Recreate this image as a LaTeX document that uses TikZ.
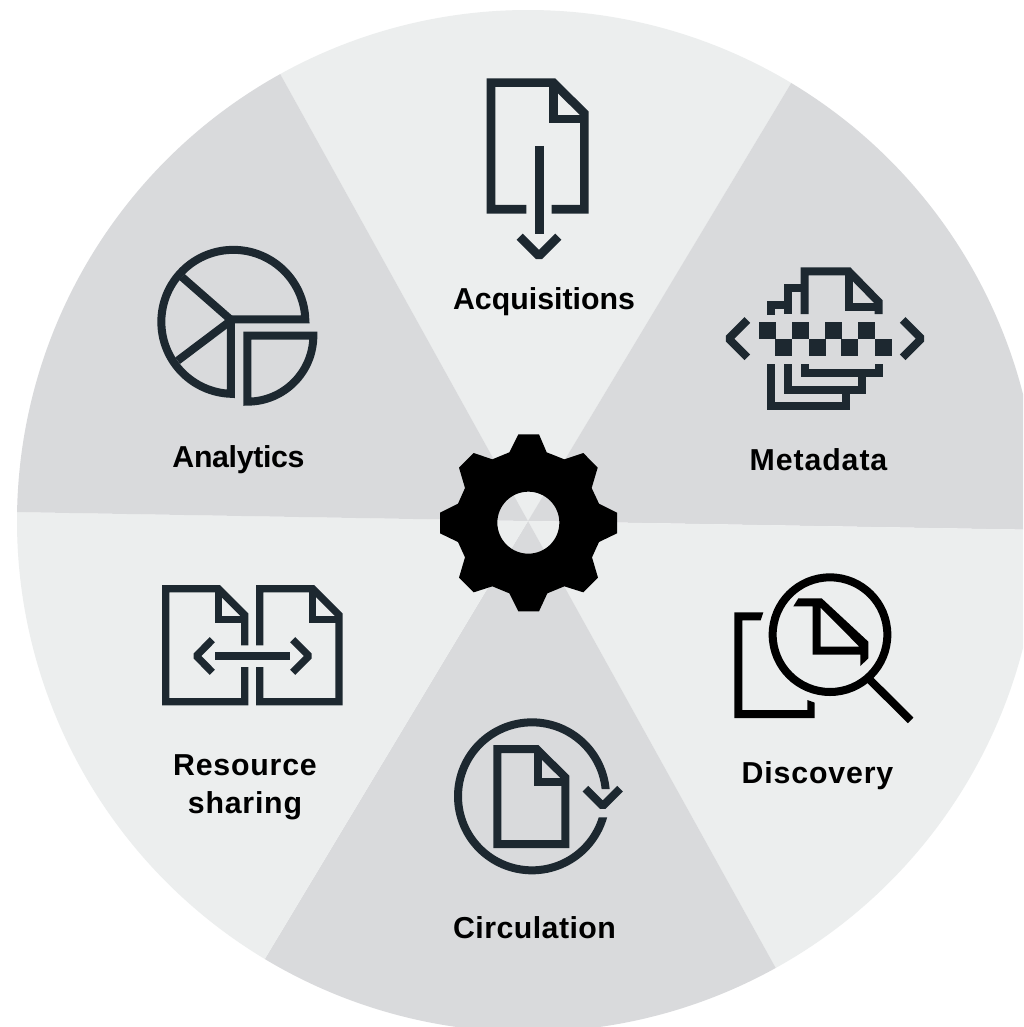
\documentclass[tikz,border=0pt]{standalone}
\usepackage{fontspec}
\setmainfont{Liberation Sans}
\definecolor{seclight}{HTML}{ECEEEE}
\definecolor{secdark}{HTML}{D9DADC}
\definecolor{iconink}{HTML}{1D2830}
\tikzset{
  zoomed/.style 2 args={shift={(#1,#2)},x=0.33333pt,y=-0.33333pt},
  ink/.style={draw=iconink,line width=#1,miter limit=10,line join=miter,fill=none},
  ink/.default=8pt,
  chev/.style={draw=iconink,line width=#1,line join=bevel,fill=none},
  chev/.default=8pt,
  lab/.style={font=\fontsize{30.3}{38}\selectfont\bfseries\addfontfeature{LetterSpace=#1},text=black,align=center,inner sep=0pt,anchor=base},
  lab/.default=0
}
\begin{document}
\begin{tikzpicture}[x=1pt,y=-1pt]
\path[use as bounding box,clip] (0,0) rectangle (1023,1027);
\fill[white] (0,0) rectangle (1023,1027);
% sectors
\foreach \a/\b/\c in {241/301/seclight,301/361/secdark,361/421/seclight,61/121/secdark,121/181/seclight,181/241/secdark}{
  \fill[\c] (528,521) -- ++(\a:511) arc[start angle=\a,end angle=\b,radius=511] -- cycle;
}
% gear
\begin{scope}[zoomed={420}{420}]
\fill[black,even odd rule] (295,43)--(357,43)--(380,97)--(433,118)--(490,99)--(533,143)--(515,204)--(537,251)--(591,278)--(591,340)--(537,366)--(516,412)--(534,473)--(490,517)--(433,499)--(382,520)--(357,574)--(295,574)--(268,520)--(217,499)--(161,517)--(117,473)--(135,412)--(114,366)--(60,340)--(60,278)--(114,251)--(135,204)--(117,143)--(161,99)--(217,118)--(268,97)--cycle
 (325,308) circle[radius=93];
\end{scope}
% Acquisitions icon
\begin{scope}[zoomed={470}{70}]
\draw[ink=8.67pt] (169,418)--(63,418)--(63,38)--(250,38)--(343,130)--(343,418)--(245,418);
\draw[ink=8.67pt] (250,38)--(250,147)--(343,147);
\draw[ink=9pt] (208,228)--(208,492);
\draw[chev=8.67pt] (149,500)--(207,558)--(265,500);
\end{scope}
% Metadata icon
\begin{scope}[zoomed={700}{250}]
\draw[ink] (314,192)--(314,64)--(446,64)--(536,156)--(536,192);
\draw[ink] (446,64)--(446,172)--(536,172);
\draw[ink] (264,192)--(264,114)--(314,114);
\draw[ink] (214,194)--(214,164)--(264,164);
\draw[ink] (314,342)--(314,370)--(536,370)--(536,342);
\draw[ink] (264,342)--(264,420)--(487,420)--(487,370);
\draw[ink] (214,342)--(214,469)--(438,469)--(438,420);
\foreach \x in {177,276,375,474}{\fill[iconink] (\x,216) rectangle ++(50,50);}
\foreach \x in {226,327,424,525}{\fill[iconink] (\x,267) rectangle ++(50,50);}
\draw[chev] (142,210)--(86,266)--(142,322);
\draw[chev] (608,210)--(664,266)--(608,322);
\end{scope}
% Discovery icon
\begin{scope}[zoomed={720}{560}]
\draw[draw=black,line width=8pt] (330,224) circle[radius=172];
\draw[draw=black,line width=8pt] (445,355)--(572,481);
\fill[black] (43,157)--(130,157)--(122,181)--(67,181)--(67,450)--(262,450)--(262,420)--(284,428)--(284,474)--(43,474)--cycle;
\fill[black,even odd rule] (235,115)--(305,115)--(445,245)--(445,295)--(421,318)--(421,284)--(278,284)--(278,139)--(220,139)--cycle
 (302,143)--(418,260)--(302,260)--cycle;
\end{scope}
% Circulation icon
\begin{scope}[zoomed={440}{710}]
\begin{scope}
\clip (0,0)--(570,0)--(570,237)--(276,237)--(276,322)--(570,322)--(570,510)--(0,510)--cycle;
\draw[ink] (276,259) circle[radius=222];
\end{scope}
\draw[ink] (172,117)--(290,117)--(376,202)--(376,402)--(172,402)--cycle;
\draw[ink] (293,117)--(293,217)--(376,217);
\draw[chev] (436,236)--(488,288)--(540,236);
\end{scope}
% Resource sharing icon
\begin{scope}[zoomed={150}{570}]
\draw[ink=7.33pt] (284,226)--(284,135)--(205,56)--(47,56)--(47,395)--(284,395)--(284,291);
\draw[ink=7.33pt] (206,56)--(206,149)--(284,149);
\draw[ink=7.33pt] (329,226)--(329,56)--(488,56)--(567,135)--(567,395)--(329,395)--(329,291);
\draw[ink=7.33pt] (488,56)--(488,149)--(567,149);
\fill[iconink] (195,246) rectangle (420,271);
\draw[chev=7.33pt] (187,209)--(139,258)--(187,307);
\draw[chev=7.33pt] (428,209)--(477,258)--(428,307);
\end{scope}
% Analytics icon
\begin{scope}[zoomed={145}{235}]
\draw[ink] (258,253)--(480.9,253) arc[start angle=-2,end angle=-268,radius=216]--cycle;
\draw[ink] (111,126)--(256,253);
\draw[ink] (98,377)--(256,258);
\draw[ink] (307,302)--(505,302) arc[start angle=0,end angle=90,radius=198]--cycle;
\end{scope}
% labels
\node[lab] (acq) at (544,309.5) {Acquisitions};
\node[lab=3] (meta) at (818.5,470) {Metadata};
\node[lab=-1.1] (ana) at (238.5,467) {Analytics};
\node[lab=2.8] (disc) at (817.5,783) {Discovery};
\node[lab=1.5] (circ) at (534.5,938.5) {Circulation};
\node[lab=2.6] (res) at (245,813.7) {Resource\\sharing};
\end{tikzpicture}
\end{document}
